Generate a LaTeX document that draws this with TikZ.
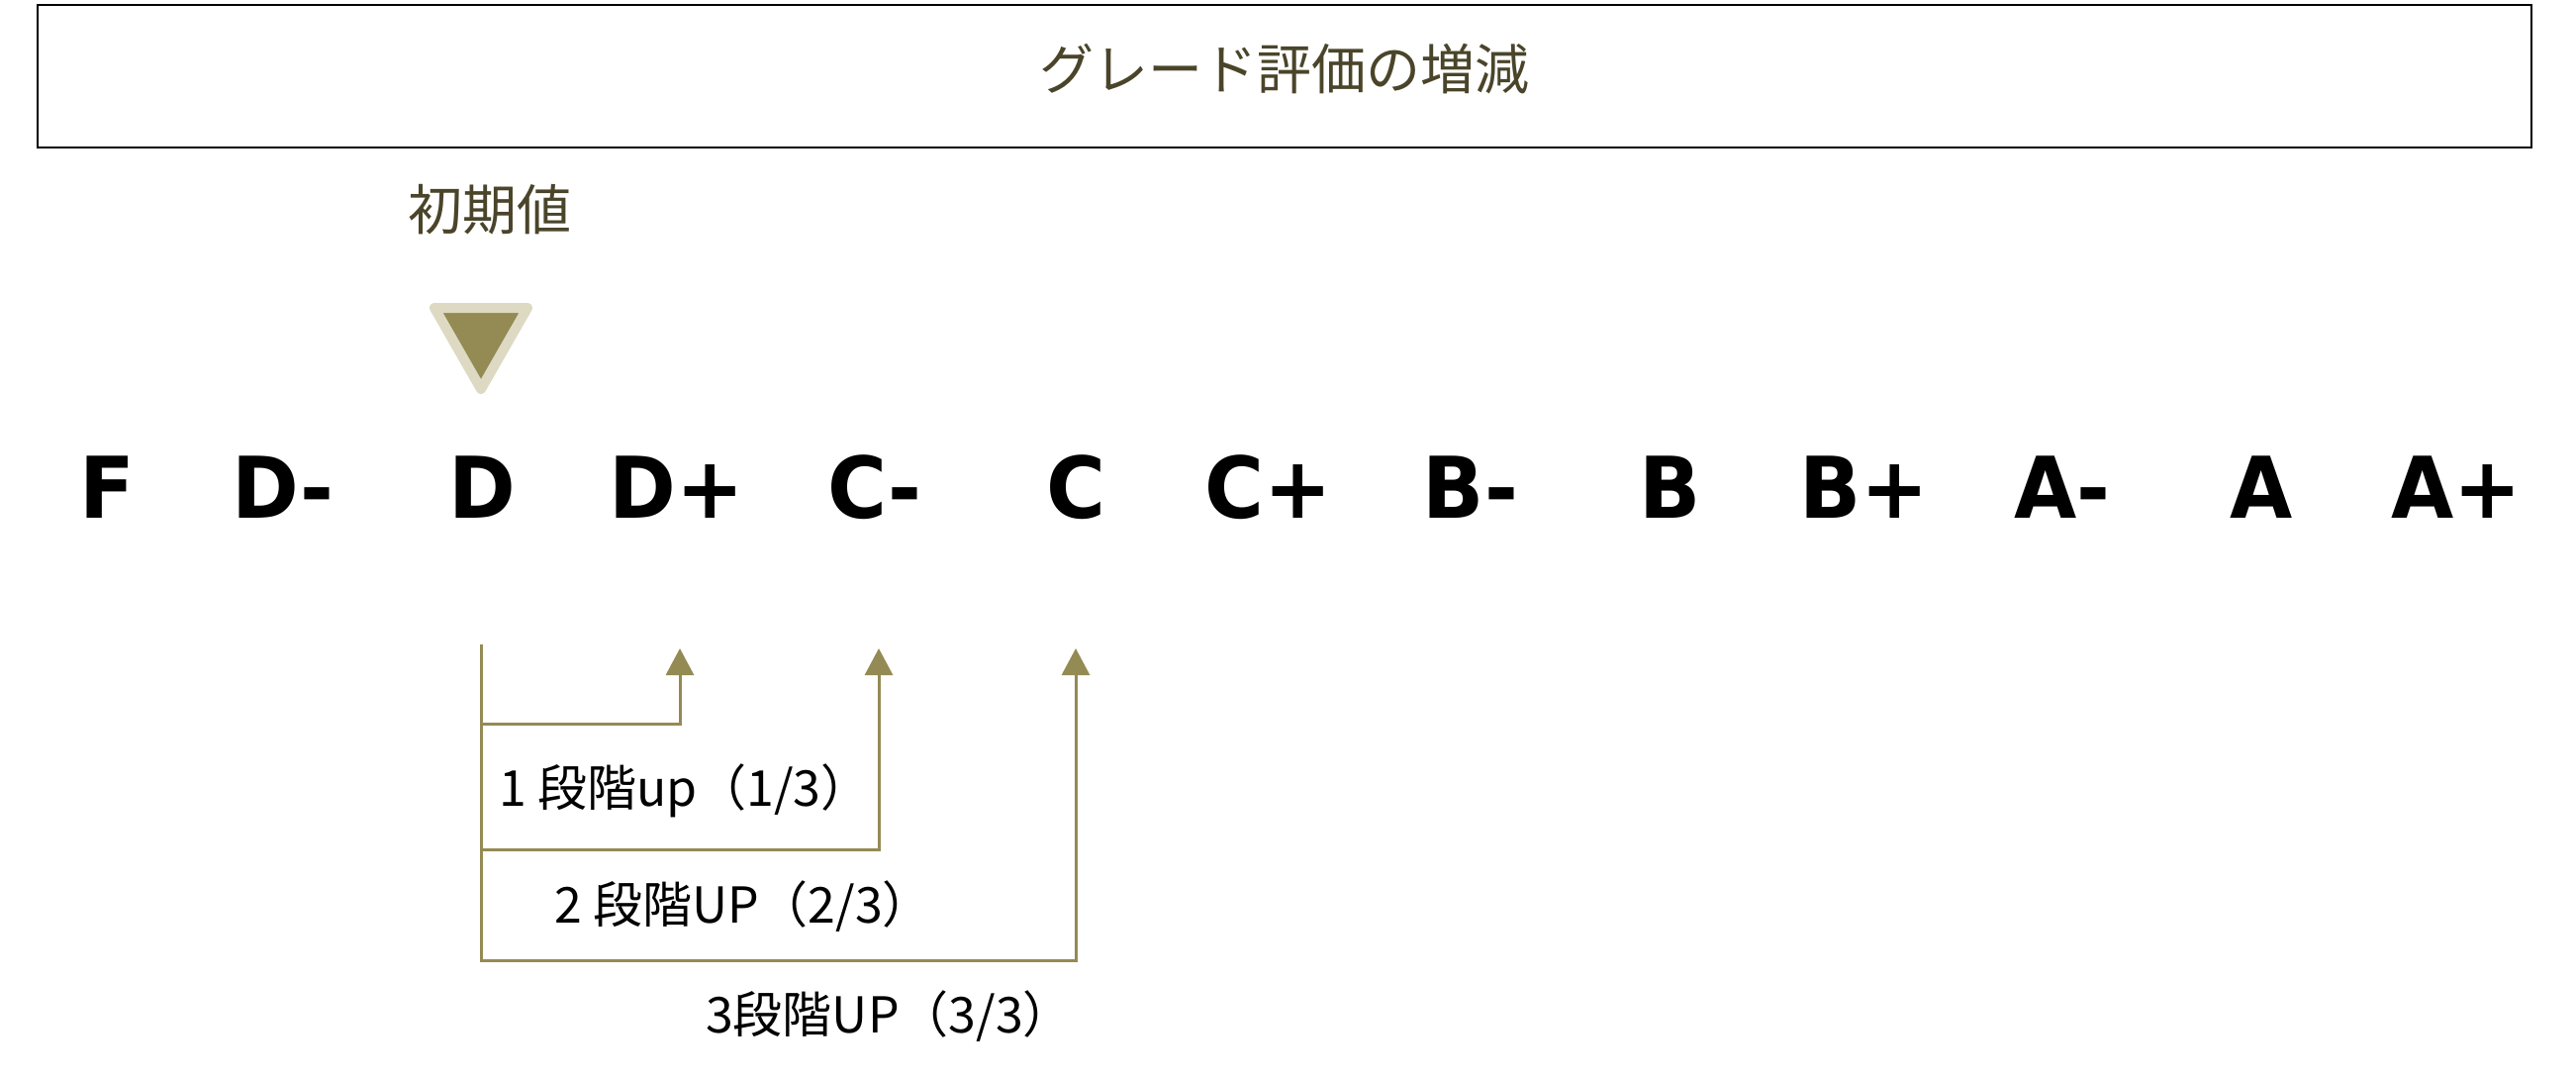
\documentclass[tikz,border=0pt]{standalone}
\usepackage{fontspec}
\newfontfamily\jp{Noto Sans CJK JP}
\newfontfamily\grd{DejaVu Sans}
\usetikzlibrary{arrows.meta}
\definecolor{olv}{HTML}{948A54}
\definecolor{olvlt}{HTML}{DDD9C3}
\definecolor{ttl}{HTML}{4A452A}
\newcommand{\gtxt}[1]{\scalebox{0.95}[1]{#1}}
\begin{document}
\begin{tikzpicture}[x=1pt,y=-1pt,
  grade/.style={font=\grd\bfseries\fontsize{86}{100}\selectfont, anchor=base, inner sep=0pt, text=black},
  lab/.style={font=\jp\fontsize{50}{60}\selectfont, anchor=west, inner sep=0pt, text=black},
  conn/.style={draw=olv, line width=3pt, -{Triangle[width=28pt,length=27pt]}}]
\useasboundingbox (0,0) rectangle (2603,1090);
% title box
\node[draw=black, line width=2.5pt, minimum width=2520pt, minimum height=144pt, inner sep=0pt] (titlebox) at (1298,77) {};
\node[font=\jp\fontsize{55}{66}\selectfont, text=ttl, inner sep=0pt] (title) at (1298,70) {グレード評価の増減};
% initial value marker
\node[font=\jp\fontsize{55}{66}\selectfont, text=ttl, inner sep=0pt] (init) at (495,212) {初期値};
\draw[draw=olvlt, fill=olv, line width=10pt, line join=round] (439,311) -- (533,311) -- (486,393) -- cycle;
% grades
\node[grade] (F)  at (108,523) {\gtxt{F}};
\node[grade] (Dm) at (286,523) {\gtxt{D-}};
\node[grade] (D)  at (487,523) {\gtxt{D}};
\node[grade] (Dp) at (684,523) {\gtxt{D+}};
\node[grade] (Cm) at (884,523) {\gtxt{C-}};
\node[grade] (C)  at (1087,523) {\gtxt{C}};
\node[grade] (Cp) at (1282,523) {\gtxt{C+}};
\node[grade] (Bm) at (1486,523) {\gtxt{B-}};
\node[grade] (B)  at (1688,523) {\gtxt{B}};
\node[grade] (Bp) at (1884,523) {\gtxt{B+}};
\node[grade] (Am) at (2084,523) {\gtxt{A-}};
\node[grade] (A)  at (2285,523) {\gtxt{A}};
\node[grade] (Ap) at (2482,523) {\gtxt{A+}};
% connectors
\coordinate (start) at (486,651);
\coordinate (t1) at (687,655);
\coordinate (t2) at (888,655);
\coordinate (t3) at (1087,655);
\coordinate (c1) at (687,731);
\coordinate (c2) at (888,858);
\coordinate (c3) at (1087,970);
\draw[conn] (start) |- (c1) -- (t1);
\draw[conn] (start) |- (c2) -- (t2);
\draw[conn] (start) |- (c3) -- (t3);
% labels
\node[lab] (l1) at (504,799) {1 段階up（1/3）};
\node[lab] (l2) at (560,916) {2 段階UP（2/3）};
\node[lab] (l3) at (713,1027) {3段階UP（3/3）};
\end{tikzpicture}
\end{document}
